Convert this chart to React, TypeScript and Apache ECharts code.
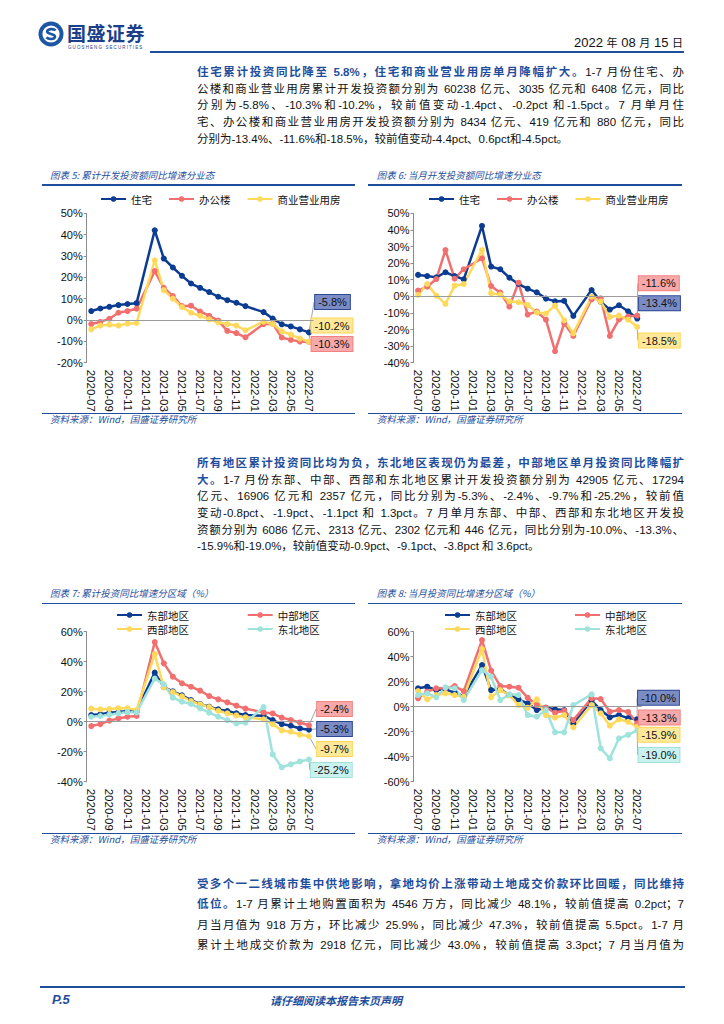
import React, { useEffect, useRef } from "react";
import * as echarts from "echarts";

const categories = [
  "2020-07", "2020-08", "2020-09", "2020-10", "2020-11", "2020-12",
  "2021-01", "2021-02", "2021-03", "2021-04", "2021-05", "2021-06",
  "2021-07", "2021-08", "2021-09", "2021-10", "2021-11", "2021-12",
  "2022-01", "2022-02", "2022-03", "2022-04", "2022-05", "2022-06", "2022-07",
];

// 图表5 累计开发投资额同比增速分业态 (%)
const res5 = [4.2, 5.4, 6.2, 7.0, 7.5, 7.9, null, 42.0, 28.8, 24.6, 20.7, 17.1, 15.1, 13.1, 10.9, 9.3, 8.1, 6.5, null, 3.7, 0.7, -2.0, -3.0, -4.4, -5.8];
const off5 = [-1.9, -0.9, 0.6, 3.4, 4.2, 5.3, null, 22.9, 15.1, 11.2, 6.5, 6.7, 4.0, 2.0, -0.3, -5.1, -6.1, -8.1, null, -1.9, -1.7, -8.2, -9.3, -10.1, -10.3];
const com5 = [-4.4, -2.6, -2.2, -2.6, -1.7, -1.4, null, 28.0, 14.0, 10.0, 6.1, 3.4, 2.0, 0.3, -1.1, -1.9, -2.6, -4.8, null, -0.8, -1.9, -5.3, -6.8, -8.7, -10.2];

// 图表6 当月开发投资额同比增速分业态 (%)
const res6 = [12.9, 12.2, 11.4, 14.5, 12.2, 10.2, null, 42.4, 17.9, 16.3, 11.2, 7.4, 4.6, 2.4, -1.4, -3.0, -2.8, -11.8, null, 3.8, -3.2, -8.0, -5.4, -9.0, -13.4];
const off6 = [3.4, 5.8, 10.4, 27.9, 10.6, 16.3, null, 22.9, 6.2, 2.2, -6.2, 8.2, -11.0, -9.2, -14.1, -33.1, -16.3, -23.9, null, -1.8, -1.2, -23.9, -13.9, -12.2, -11.6];
const com6 = [0.8, 7.4, 0.4, -4.6, 6.4, 7.4, null, 27.9, 1.8, 1.0, -3.0, -3.6, -5.2, -9.8, -10.4, -5.6, -14.5, -22.3, null, -0.2, -3.2, -12.4, -11.6, -14.0, -18.5];

// 图表7 累计投资同比增速分区域 (%)
const east7 = [4.4, 4.9, 6.0, 6.4, 7.1, 6.7, null, 32.7, 23.0, 20.2, 17.6, 14.4, 11.8, 10.0, 8.2, 7.1, 5.6, 4.4, null, 4.0, 1.1, -1.6, -2.7, -4.5, -5.3];
const central7 = [-2.9, -1.6, 0.7, 2.2, 3.3, 3.8, null, 53.1, 38.9, 30.0, 25.6, 23.3, 20.7, 17.1, 14.9, 12.9, 10.7, 8.7, null, 6.2, 5.5, 2.7, 1.1, -0.5, -2.4];
const west7 = [8.7, 8.2, 8.4, 8.9, 8.9, 7.8, null, 45.1, 22.9, 19.8, 16.9, 13.8, 11.6, 9.8, 7.3, 5.6, 4.2, 2.9, null, 1.6, -1.6, -5.8, -6.7, -8.6, -9.7];
const ne7 = [3.3, 3.8, 4.7, 5.6, 6.4, 6.2, null, 28.7, 24.9, 16.0, 13.3, 11.8, 8.9, 6.0, 3.3, 1.1, -1.1, -0.7, null, 9.8, -21.8, -30.4, -28.4, -26.5, -25.2];

// 图表8 当月投资同比增速分区域 (%)
const east8 = [14.7, 16.0, 13.3, 13.9, 11.2, 8.5, null, 33.3, 13.3, 14.0, 9.3, 5.9, 2.7, -2.7, -0.8, -2.1, -2.7, -13.3, null, 5.0, -2.7, -8.5, -6.7, -9.1, -10.0];
const central8 = [6.7, 12.0, 14.7, 14.7, 16.5, 12.5, null, 53.3, 28.8, 16.5, 16.0, 15.2, 7.2, 1.3, -0.8, -4.8, -3.2, -10.7, null, 6.7, 6.1, -4.0, -2.7, -4.2, -13.3];
const west8 = [12.5, 5.9, 9.3, 10.7, 9.3, 8.0, null, 46.1, 7.5, 13.3, 9.3, 1.3, -0.8, 5.9, -6.7, -8.8, -6.7, -16.5, null, 1.3, -5.3, -15.2, -10.1, -12.1, -15.9];
const ne8 = [9.3, 10.7, 7.5, 15.5, 14.7, 5.3, null, 29.3, 24.0, 5.3, 9.9, 9.3, -6.7, -8.0, -2.7, -20.5, -20.5, 1.3, null, 9.9, -33.3, -41.3, -25.3, -22.6, -19.0];

const FONT_LATIN = "'Liberation Sans', 'Noto Sans CJK SC', sans-serif";
const FONT_CJK = "'Noto Sans CJK SC', sans-serif";
const DARK_BLUE = "#1f4e9c";

const BLUE = "#0c3c92";
const RED = "#f26f6f";
const YELLOW = "#ffd95c";
const CYAN = "#9fe3dc";

const BOX_BLUE = { bg: "#7b8cc5", border: "#2c4796" };
const BOX_RED = { bg: "#f7a9a9", border: "#f28282" };
const BOX_YELLOW = { bg: "#ffe89a", border: "#ffd656" };
const BOX_CYAN = { bg: "#c9f1ee", border: "#a2dfd9" };

type SDef = {
  name: string;
  data: (number | null)[];
  color: string;
  box: { bg: string; border: string };
  lx: number;
  ly: number;
};

function buildOption(cfg: {
  grid: any;
  min: number;
  max: number;
  interval: number;
  legends: { names: string[]; left: number; top: number }[];
  series: SDef[];
}) {
  return {
    animation: false,
    grid: { ...cfg.grid, containLabel: false, outerBoundsMode: "none" },
    legend: cfg.legends.map((l) => ({
      data: l.names,
      left: l.left,
      top: l.top,
      itemWidth: 25,
      itemHeight: 7,
      itemGap: 16,
      selectedMode: false,
      padding: 0,
      textStyle: { fontSize: 10.5, fontFamily: FONT_CJK, color: "#111", lineHeight: 12 },
    })),
    xAxis: {
      type: "category",
      data: categories,
      boundaryGap: true,
      axisLine: { show: false },
      axisTick: { show: false },
      axisLabel: {
        rotate: -90,
        interval: 1,
        fontSize: 11.5,
        fontFamily: "'Liberation Sans', sans-serif",
        color: "#111",
        margin: 7,
      },
    },
    yAxis: {
      type: "value",
      min: cfg.min,
      max: cfg.max,
      interval: cfg.interval,
      axisLine: { show: true, lineStyle: { color: "#8c8c8c", width: 1 } },
      axisTick: { show: true, length: 3, lineStyle: { color: "#8c8c8c" } },
      splitLine: { show: false },
      axisLabel: {
        formatter: "{value}%",
        fontSize: 11,
        fontFamily: "'Liberation Sans', sans-serif",
        color: "#111",
        margin: 4,
      },
    },
    series: cfg.series.map((s, si) => ({
      name: s.name,
      type: "line",
      connectNulls: true,
      symbol: "circle",
      symbolSize: 6,
      lineStyle: { color: s.color, width: 2.5 },
      itemStyle: { color: s.color },
      emphasis: { disabled: true },
      data: s.data.map((v, i) =>
        i === s.data.length - 1 ? { value: v, label: { show: true } } : v
      ),
      label: {
        show: false,
        formatter: (p: any) => Number(p.value).toFixed(1) + "%",
        fontSize: 11,
        fontFamily: "'Liberation Sans', sans-serif",
        color: "#111",
        backgroundColor: s.box.bg,
        borderColor: s.box.border,
        borderWidth: 1,
        padding: [2, 3, 1, 3],
      },
      labelLayout: { x: s.lx, y: s.ly, align: "center", verticalAlign: "middle" },
      labelLine: { show: true, lineStyle: { color: "#a6a6a6", width: 1 } },
      markLine:
        si === 0
          ? {
              silent: true,
              symbol: ["none", "none"],
              label: { show: false },
              lineStyle: { color: "#9c9c9c", width: 1, type: "solid" },
              emphasis: { disabled: true },
              data: [{ yAxis: 0 }],
            }
          : undefined,
    })),
  };
}

const option5 = buildOption({
  grid: { left: 50.7, top: 23.3, width: 226.8, height: 149.4 },
  min: -20,
  max: 50,
  interval: 10,
  legends: [{ names: ["住宅", "办公楼", "商业营业用房"], left: 64, top: 3 }],
  series: [
    { name: "住宅", data: res5, color: BLUE, box: BOX_BLUE, lx: 296.5, ly: 112 },
    { name: "办公楼", data: off5, color: RED, box: BOX_RED, lx: 296, ly: 154 },
    { name: "商业营业用房", data: com5, color: YELLOW, box: BOX_YELLOW, lx: 296, ly: 135.5 },
  ],
});

const option6 = buildOption({
  grid: { left: 45.5, top: 23.3, width: 228.3, height: 149.4 },
  min: -40,
  max: 50,
  interval: 10,
  legends: [{ names: ["住宅", "办公楼", "商业营业用房"], left: 60, top: 3 }],
  series: [
    { name: "住宅", data: res6, color: BLUE, box: BOX_BLUE, lx: 291.5, ly: 113.3 },
    { name: "办公楼", data: off6, color: RED, box: BOX_RED, lx: 290.8, ly: 93.3 },
    { name: "商业营业用房", data: com6, color: YELLOW, box: BOX_YELLOW, lx: 291.3, ly: 150.5 },
  ],
});

const option7 = buildOption({
  grid: { left: 50.7, top: 25.7, width: 226.8, height: 150 },
  min: -40,
  max: 60,
  interval: 20,
  legends: [
    { names: ["东部地区"], left: 80, top: 3 },
    { names: ["中部地区"], left: 210.7, top: 3 },
    { names: ["西部地区"], left: 80, top: 17 },
    { names: ["东北地区"], left: 210.7, top: 17 },
  ],
  series: [
    { name: "东部地区", data: east7, color: BLUE, box: BOX_BLUE, lx: 298.5, ly: 123 },
    { name: "中部地区", data: central7, color: RED, box: BOX_RED, lx: 298.5, ly: 103 },
    { name: "西部地区", data: west7, color: YELLOW, box: BOX_YELLOW, lx: 298.5, ly: 143 },
    { name: "东北地区", data: ne7, color: CYAN, box: BOX_CYAN, lx: 295.3, ly: 164 },
  ],
});

const option8 = buildOption({
  grid: { left: 45.5, top: 25.7, width: 228.3, height: 150 },
  min: -60,
  max: 60,
  interval: 20,
  legends: [
    { names: ["东部地区"], left: 76, top: 3 },
    { names: ["中部地区"], left: 206, top: 3 },
    { names: ["西部地区"], left: 76, top: 17 },
    { names: ["东北地区"], left: 206, top: 17 },
  ],
  series: [
    { name: "东部地区", data: east8, color: BLUE, box: BOX_BLUE, lx: 290.5, ly: 91.7 },
    { name: "中部地区", data: central8, color: RED, box: BOX_RED, lx: 291.3, ly: 111.5 },
    { name: "西部地区", data: west8, color: YELLOW, box: BOX_YELLOW, lx: 291, ly: 128.7 },
    { name: "东北地区", data: ne8, color: CYAN, box: BOX_CYAN, lx: 291, ly: 149 },
  ],
});

function Chart({ option, left, top, width, height }: any) {
  const ref = useRef<HTMLDivElement>(null);
  useEffect(() => {
    const chart = echarts.init(ref.current as HTMLDivElement, undefined, { renderer: "svg" });
    chart.setOption(option);
    return () => chart.dispose();
  }, [option]);
  return <div ref={ref} style={{ position: "absolute", left, top, width, height }} />;
}

type Line = { b?: string; t?: string; last?: boolean };

const para1: Line[] = [
  { b: "住宅累计投资同比降至 5.8%，住宅和商业营业用房单月降幅扩大。", t: "1-7 月份住宅、办" },
  { t: "公楼和商业营业用房累计开发投资额分别为 60238 亿元、3035 亿元和 6408 亿元，同比" },
  { t: "分别为-5.8%、-10.3%和-10.2%，较前值变动-1.4pct、-0.2pct 和-1.5pct。7 月单月住" },
  { t: "宅、办公楼和商业营业用房开发投资额分别为 8434 亿元、419 亿元和 880 亿元，同比" },
  { t: "分别为-13.4%、-11.6%和-18.5%，较前值变动-4.4pct、0.6pct和-4.5pct。", last: true },
];

const para2: Line[] = [
  { b: "所有地区累计投资同比均为负，东北地区表现仍为最差，中部地区单月投资同比降幅扩" },
  { b: "大。", t: "1-7 月份东部、中部、西部和东北地区累计开发投资额分别为 42905 亿元、17294" },
  { t: "亿元、16906 亿元和 2357 亿元，同比分别为-5.3%、-2.4%、-9.7%和-25.2%，较前值" },
  { t: "变动-0.8pct、-1.9pct、-1.1pct 和 1.3pct。7 月单月东部、中部、西部和东北地区开发投" },
  { t: "资额分别为 6086 亿元、2313 亿元、2302 亿元和 446 亿元，同比分别为-10.0%、-13.3%、" },
  { t: "-15.9%和-19.0%，较前值变动-0.9pct、-9.1pct、-3.8pct 和 3.6pct。", last: true },
];

const para3: Line[] = [
  { b: "受多个一二线城市集中供地影响，拿地均价上涨带动土地成交价款环比回暖，同比维持" },
  { b: "低位。", t: "1-7 月累计土地购置面积为 4546 万方，同比减少 48.1%，较前值提高 0.2pct；7" },
  { t: "月当月值为 918 万方，环比减少 25.9%，同比减少 47.3%，较前值提高 5.5pct。1-7 月" },
  { t: "累计土地成交价款为 2918 亿元，同比减少 43.0%，较前值提高 3.3pct；7 月当月值为" },
];

function Para({ top, lines, lh }: { top: number; lines: Line[]; lh: number }) {
  return (
    <div
      style={{
        position: "absolute",
        left: 197,
        top,
        width: 487,
        fontSize: 11.5,
        fontFamily: FONT_LATIN,
        color: "#111",
      }}
    >
      {lines.map((ln, i) => (
        <div
          key={i}
          style={{
            height: lh,
            lineHeight: lh + "px",
            textAlign: "justify",
            textAlignLast: ln.last ? "left" : "justify",
          } as any}
        >
          {ln.b ? <span style={{ color: DARK_BLUE, fontWeight: 700 }}>{ln.b}</span> : null}
          {ln.t}
        </div>
      ))}
    </div>
  );
}

function ChartFrame({ x, top, title, bottom }: { x: number; top: number; title: string; bottom: number }) {
  const textLeft = x < 200 ? 50 : 376.7;
  const lineLeft = x < 200 ? 41.7 : 368;
  const common = {
    position: "absolute" as const,
    fontFamily: FONT_CJK,
    fontStyle: "italic" as const,
    fontSize: 9.5,
    color: DARK_BLUE,
    whiteSpace: "nowrap" as const,
    lineHeight: "12px",
  };
  return (
    <>
      <div style={{ ...common, left: textLeft, top: top - 6 }}>{title}</div>
      <div style={{ position: "absolute", left: lineLeft, top: top + 9.2, width: 313.5, height: 1.5, background: DARK_BLUE }} />
      <div style={{ position: "absolute", left: lineLeft, top: bottom, width: 313.5, height: 1, background: DARK_BLUE }} />
      <div style={{ ...common, left: textLeft, top: bottom + 0.5 }}>资料来源：Wind，国盛证券研究所</div>
    </>
  );
}

export default function App() {
  return (
    <div
      style={{
        position: "absolute",
        left: 0,
        top: 0,
        width: 724,
        height: 1024,
        background: "#fff",
        overflow: "hidden",
        fontFamily: FONT_LATIN,
      }}
    >
      {/* logo */}
      <svg width="26" height="26" viewBox="0 0 26 26" style={{ position: "absolute", left: 38, top: 21 }}>
        <circle cx="13" cy="13" r="12.5" fill="#1d56a5" />
        <circle cx="13" cy="13" r="8.6" fill="#fff" />
        <path
          d="M17.6 9.6 C16 7.4 9.2 7.6 9.2 10.6 C9.2 13.6 17 12.4 17 15.6 C17 18.8 10.2 18.6 8.4 16.4"
          stroke="#1d56a5"
          strokeWidth="2.6"
          fill="none"
        />
      </svg>
      <div
        style={{
          position: "absolute",
          left: 67,
          top: 23,
          fontSize: 19,
          lineHeight: "20px",
          fontWeight: 700,
          color: "#1b3f8b",
          fontFamily: FONT_CJK,
          letterSpacing: 0.5,
          whiteSpace: "nowrap",
        }}
      >
        国盛证券
      </div>
      <div
        style={{
          position: "absolute",
          left: 68,
          top: 45,
          fontSize: 4.5,
          lineHeight: "5px",
          color: "#1b3f8b",
          letterSpacing: 1.1,
          whiteSpace: "nowrap",
        }}
      >
        GUOSHENG SECURITIES
      </div>
      <div
        style={{
          position: "absolute",
          right: 41,
          top: 35,
          fontSize: 13,
          lineHeight: "16px",
          color: "#111",
          whiteSpace: "nowrap",
        }}
      >
        2022 <span style={{ fontSize: 11 }}>年</span> 08 <span style={{ fontSize: 11 }}>月</span> 15{" "}
        <span style={{ fontSize: 11 }}>日</span>
      </div>
      <div style={{ position: "absolute", left: 150, top: 51, width: 534, height: 2, background: DARK_BLUE }} />

      <Para top={64} lines={para1} lh={16.7} />

      <ChartFrame x={41} top={175} title="图表 5: 累计开发投资额同比增速分业态" bottom={412.5} />
      <ChartFrame x={368} top={175} title="图表 6: 当月开发投资额同比增速分业态" bottom={412.5} />
      <Chart option={option5} left={36} top={190} width={324} height={222} />
      <Chart option={option6} left={368} top={190} width={324} height={222} />

      <Para top={455} lines={para2} lh={16.7} />

      <ChartFrame x={41} top={593.3} title="图表 7: 累计投资同比增速分区域（%）" bottom={832.5} />
      <ChartFrame x={368} top={593.3} title="图表 8: 当月投资同比增速分区域（%）" bottom={832.5} />
      <Chart option={option7} left={36} top={606} width={324} height={226} />
      <Chart option={option8} left={368} top={606} width={324} height={226} />

      <Para top={874} lines={para3} lh={20.3} />

      <div style={{ position: "absolute", left: 40, top: 986, width: 645, height: 2, background: DARK_BLUE }} />
      <div
        style={{
          position: "absolute",
          left: 52,
          top: 992,
          fontSize: 13,
          lineHeight: "16px",
          fontWeight: 700,
          fontStyle: "italic",
          color: DARK_BLUE,
        }}
      >
        P.5
      </div>
      <div
        style={{
          position: "absolute",
          left: 270,
          top: 993,
          fontSize: 11,
          lineHeight: "14px",
          fontWeight: 700,
          fontStyle: "italic",
          color: DARK_BLUE,
          fontFamily: FONT_CJK,
          whiteSpace: "nowrap",
        }}
      >
        请仔细阅读本报告末页声明
      </div>
    </div>
  );
}
